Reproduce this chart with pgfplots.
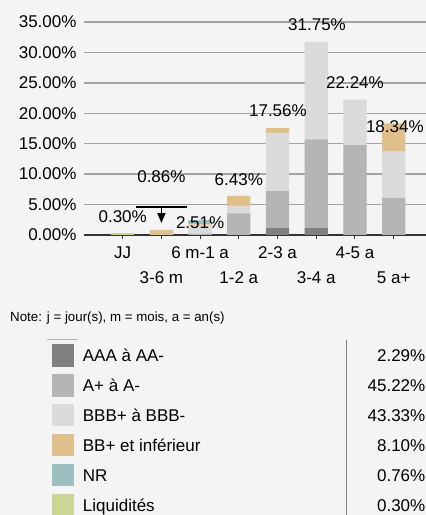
\documentclass[border=0pt]{standalone}
\usepackage{fontspec}
\setmainfont{Liberation Sans}
\usepackage{pgfplots}
\pgfplotsset{compat=1.18}
\usetikzlibrary{arrows.meta}
\definecolor{bg}{HTML}{F4F4F4}
\definecolor{gridc}{HTML}{A3A3A3}
\definecolor{cAAA}{HTML}{808080}
\definecolor{cA}{HTML}{B5B5B5}
\definecolor{cBBB}{HTML}{DBDBDB}
\definecolor{cBB}{HTML}{DFC08A}
\definecolor{cNR}{HTML}{9EBFBF}
\definecolor{cLiq}{HTML}{CCD595}
\newcommand{\vf}{\fontsize{17}{20}\selectfont}
\begin{document}
\begin{tikzpicture}
\path[use as bounding box, fill=bg] (0pt,0pt) rectangle (426pt,515pt);
\clip (0pt,0pt) rectangle (426pt,515pt);
\begin{axis}[
  at={(84pt,280pt)}, anchor=south west,
  scale only axis, width=342pt, height=213pt,
  xmin=-1, xmax=7.835, ymin=0, ymax=35,
  ybar stacked, bar width=23.3pt,
  axis x line=bottom, axis y line=left,
  x axis line style={draw=none}, y axis line style={draw=none},
  ytick={0,5,10,15,20,25,30,35},
  yticklabel={\pgfmathprintnumber[fixed,fixed zerofill,precision=2]{\tick}\%},
  /pgf/number format/assume math mode=true,
  ymajorgrids, grid style={color=gridc, line width=1.3pt},
  ytick style={draw=none},
  xtick={0,2,4,6}, xticklabels={JJ,6 m-1 a,2-3 a,4-5 a},
  extra x ticks={1,3,5,7}, extra x tick labels={3-6 m,1-2 a,3-4 a,5 a+},
  xticklabel style={yshift=-4pt},
  extra x tick style={tick label style={yshift=-25pt}},
  xtick style={color=black!80, line width=1pt},
  major tick length=4pt, tick align=outside,
  tick label style={font=\fontsize{17}{20}\selectfont, text=black},
  clip=false,
]
\addplot[fill=cAAA, draw=none] coordinates {(0,0) (1,0) (2,0) (3,0) (4,1.14) (5,1.15) (6,0) (7,0)};
\addplot[fill=cA, draw=none] coordinates {(0,0) (1,0) (2,0.22) (3,3.55) (4,6.05) (5,14.55) (6,14.75) (7,6.10)};
\addplot[fill=cBBB, draw=none] coordinates {(0,0) (1,0) (2,1.33) (3,1.25) (4,9.60) (5,16.05) (6,7.49) (7,7.60)};
\addplot[fill=cBB, draw=none] coordinates {(0,0) (1,0.86) (2,0.20) (3,1.63) (4,0.77) (5,0) (6,0) (7,4.64)};
\addplot[fill=cNR, draw=none] coordinates {(0,0) (1,0) (2,0.76) (3,0) (4,0) (5,0) (6,0) (7,0)};
\addplot[fill=cLiq, draw=none] coordinates {(0,0.30) (1,0) (2,0) (3,0) (4,0) (5,0) (6,0) (7,0)};
\draw[color=black!80, line width=1.5pt] (axis cs:-1,0) -- (axis cs:7.835,0);
\coordinate (l1) at (axis cs:0,2.96);
\coordinate (l2) at (axis cs:1,9.58);
\coordinate (l3) at (axis cs:2.0,1.97);
\coordinate (l4) at (axis cs:3.0,9.12);
\coordinate (l5) at (axis cs:4.01,20.37);
\coordinate (l6) at (axis cs:5.02,34.5);
\coordinate (l7) at (axis cs:6.0,24.97);
\coordinate (l8) at (axis cs:7.03,17.75);
\draw[line width=1.8pt] (axis cs:0.34,4.65) -- (axis cs:1.67,4.65);
\draw[line width=1.5pt, -{Triangle[width=8pt,length=10pt]}] (axis cs:1,4.65) -- (axis cs:1,1.97);
\end{axis}
\node[font=\vf] at (l1) {0.30\%};
\node[font=\vf] at (l2) {0.86\%};
\node[font=\vf] at (l3) {2.51\%};
\node[font=\vf] at (l4) {6.43\%};
\node[font=\vf] at (l5) {17.56\%};
\node[font=\vf] at (l6) {31.75\%};
\node[font=\vf] at (l7) {22.24\%};
\node[font=\vf] at (l8) {18.34\%};
\node[anchor=base west, font=\fontsize{13.3}{15}\selectfont, inner sep=0pt] at (10pt,193.3pt) {Note: j = jour(s), m = mois, a = an(s)};
\draw[gray!60, line width=0.8pt] (47.3pt,175.3pt) -- (77.7pt,175.3pt);
\draw[gray, line width=1pt] (346pt,175pt) -- (346pt,0pt);
\foreach \i/\c/\lab/\val in {0/cAAA/AAA à AA-/2.29,1/cA/A+ à A-/45.22,2/cBBB/BBB+ à BBB-/43.33,3/cBB/BB+ et inférieur/8.10,4/cNR/NR/0.76,5/cLiq/Liquidités/0.30}{
  \pgfmathsetmacro{\yc}{159.5-29.9*\i}
  \fill[\c] (51.7pt,\yc pt-11.2pt) rectangle (74.3pt,\yc pt+11.2pt);
  \node[anchor=base west, inner sep=0pt, font=\fontsize{17}{20}\selectfont] at (82.7pt,\yc pt-6.2pt) {\lab};
  \node[anchor=base east, inner sep=0pt, font=\fontsize{17}{20}\selectfont] at (425.5pt,\yc pt-6.2pt) {\val\%};
}
\end{tikzpicture}
\end{document}
